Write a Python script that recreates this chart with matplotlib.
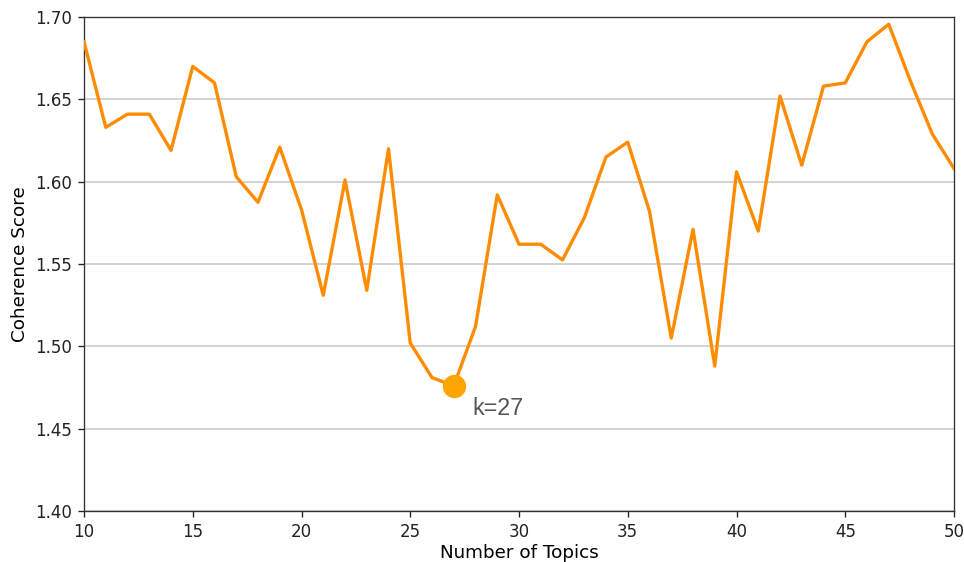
import matplotlib
matplotlib.use("Agg")
import matplotlib.pyplot as plt

topics = list(range(10, 51))
coherence = [1.685, 1.633, 1.641, 1.641, 1.619, 1.670, 1.660, 1.603, 1.5875, 1.621,
             1.583, 1.531, 1.601, 1.534, 1.620, 1.502, 1.481, 1.476, 1.512, 1.592,
             1.562, 1.562, 1.5525, 1.578, 1.615, 1.624, 1.582, 1.505, 1.571, 1.488,
             1.606, 1.570, 1.652, 1.610, 1.658, 1.660, 1.685, 1.6956, 1.661, 1.629,
             1.608]
best_k = 27
best_label = "k=27"
yticks = [1.40, 1.45, 1.50, 1.55, 1.60, 1.65, 1.70]
xticks = [10, 15, 20, 25, 30, 35, 40, 45, 50]

fig = plt.figure(figsize=(965/120, 562/120), dpi=120)
ax = fig.add_axes([84/965, 51/562, 870/965, 494/562])
ax.plot(topics, coherence, color="darkorange", lw=2, zorder=3)
best_val = coherence[topics.index(best_k)]
ax.plot([best_k], [best_val], "o", color="orange", markersize=13, zorder=4)
ax.annotate(best_label, xy=(best_k, best_val), xytext=(11, -13.5),
            textcoords="offset points", ha="left", va="center",
            fontsize=14, color="#555555", family="Liberation Sans")
ax.set_xlim(10, 50)
ax.set_ylim(1.40, 1.70)
ax.set_xticks(xticks)
ax.set_yticks(yticks)
ax.set_yticklabels([f"{v:.2f}" for v in yticks])
ax.yaxis.grid(True, color="#cccccc", lw=1)
ax.set_axisbelow(True)
for s in ax.spines.values():
    s.set_color("#333333")
ax.tick_params(colors="#222222", labelsize=10)
ax.set_xlabel("Number of Topics", fontsize=11, labelpad=2)
ax.set_ylabel("Coherence Score", fontsize=11, labelpad=4)
fig.savefig("out.png", dpi=120)
